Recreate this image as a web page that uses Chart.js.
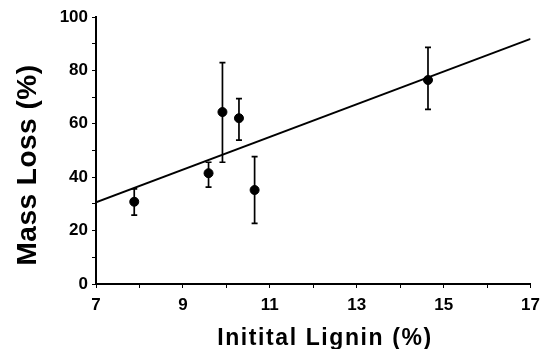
<!DOCTYPE html>
<html>
<head>
<meta charset="utf-8">
<script src="https://cdn.jsdelivr.net/npm/chart.js@4/dist/chart.umd.min.js"></script>
<style>
  html, body { margin: 0; padding: 0; background: #fff; }
  #wrap { width: 547px; height: 349px; position: relative; }
</style>
</head>
<body>
<div id="wrap"><canvas id="ligninChart"></canvas></div>
<script>
// values
const lignin   = [7.88, 9.59, 9.91, 10.29, 10.65, 14.64];
const massLoss = [30.8, 41.5, 64.4, 62.1, 35.2, 76.4];
const errHigh  = [35.6, 45.6, 82.9, 69.4, 47.7, 88.6];
const errLow   = [25.8, 36.3, 45.6, 53.9, 22.7, 65.4];
const fitX = [7, 17];
const fitY = [30.6, 91.8];
const xLabelTicks = [7, 9, 11, 13, 15, 17];
const yLabelTicks = [0, 20, 40, 60, 80, 100];
const xTitle = 'Initital Lignin (%)';
const yTitle = 'Mass Loss (%)';

const FONT = '"Liberation Sans", Arial, Helvetica, sans-serif';

// vertical error bars with small caps
const errorBars = {
  id: 'errorBars',
  afterDatasetsDraw(chart) {
    const { ctx, scales: { x, y } } = chart;
    ctx.save();
    ctx.strokeStyle = '#000';
    ctx.lineWidth = 1.7;
    lignin.forEach((v, i) => {
      const px = x.getPixelForValue(v);
      const top = y.getPixelForValue(errHigh[i]);
      const bot = y.getPixelForValue(errLow[i]);
      ctx.beginPath();
      ctx.moveTo(px, top); ctx.lineTo(px, bot);
      ctx.moveTo(px - 3, top); ctx.lineTo(px + 3, top);
      ctx.moveTo(px - 3, bot); ctx.lineTo(px + 3, bot);
      ctx.stroke();
    });
    ctx.restore();
  }
};

// axis titles, drawn by hand so the letter spacing can be widened
const axisTitles = {
  id: 'axisTitles',
  afterDraw(chart) {
    const { ctx } = chart;
    ctx.save();
    ctx.fillStyle = '#000';
    ctx.textAlign = 'center';
    ctx.textBaseline = 'alphabetic';
    ctx.font = `bold 23px ${FONT}`;
    ctx.letterSpacing = '1.6px';
    ctx.fillText(xTitle, 325, 345);
    ctx.translate(36, 165);
    ctx.rotate(-Math.PI / 2);
    ctx.font = `bold 28px ${FONT}`;
    ctx.letterSpacing = '0.5px';
    ctx.fillText(yTitle, 0, 0);
    ctx.restore();
  }
};

new Chart(document.getElementById('ligninChart'), {
  type: 'scatter',
  data: {
    datasets: [
      {
        type: 'line',
        data: fitX.map((v, i) => ({ x: v, y: fitY[i] })),
        borderColor: '#000',
        borderWidth: 1.8,
        pointRadius: 0,
        fill: false,
      },
      {
        data: lignin.map((v, i) => ({ x: v, y: massLoss[i] })),
        backgroundColor: '#000',
        borderColor: '#000',
        pointRadius: 4.5,
        pointHoverRadius: 4.5,
      },
    ],
  },
  options: {
    responsive: true, maintainAspectRatio: false,
    animation: false,
    layout: { padding: { left: 0, right: 15, top: 17, bottom: 0 } },
    plugins: { legend: { display: false }, tooltip: { enabled: false } },
    scales: {
      x: {
        type: 'linear', min: 7, max: 17,
        afterFit: s => { s.height = 65; },
        border: { color: '#000', width: 2 },
        grid: { drawOnChartArea: false, tickLength: 4, color: '#000', lineWidth: 1 },
        ticks: {
          stepSize: 1, autoSkip: false, maxRotation: 0, color: '#000', padding: 7,
          font: { family: FONT, size: 17, weight: 'bold' },
          callback: v => xLabelTicks.includes(v) ? String(v) : '',
        },
      },
      y: {
        type: 'linear', min: 0, max: 100,
        afterFit: s => { s.width = 96; },
        border: { color: '#000', width: 2 },
        grid: { drawOnChartArea: false, tickLength: 4, color: '#000', lineWidth: 1 },
        ticks: {
          stepSize: 10, autoSkip: false, color: '#000', padding: 4,
          font: { family: FONT, size: 17, weight: 'bold' },
          callback: v => yLabelTicks.includes(v) ? String(v) : '',
        },
      },
    },
  },
  plugins: [errorBars, axisTitles],
});
</script>
</body>
</html>
